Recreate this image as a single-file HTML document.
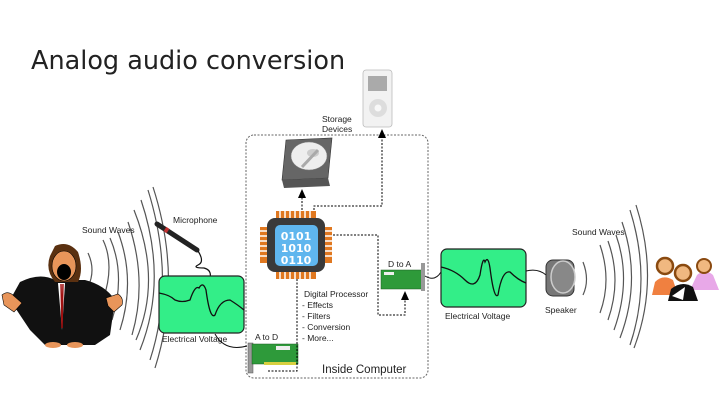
<!DOCTYPE html>
<html><head><meta charset="utf-8"><style>
html,body{margin:0;padding:0;background:#fff;}
svg{display:block;font-family:"Liberation Sans","DejaVu Sans",sans-serif;}
</style></head><body>
<svg width="720" height="405" viewBox="0 0 720 405" xmlns="http://www.w3.org/2000/svg">
<defs>
<marker id="ar" markerWidth="9" markerHeight="8" refX="8" refY="4" orient="auto" markerUnits="userSpaceOnUse">
<path d="M0,0 L9,4 L0,8 Z" fill="#000"/></marker>
</defs>
<text x="31" y="69" font-size="25.5" fill="#222" font-family="'DejaVu Sans',sans-serif">Analog audio conversion</text>

<!-- computer box -->
<rect x="246" y="135" width="182" height="243" rx="8" fill="none" stroke="#666" stroke-dasharray="2,1.5" stroke-width="1"/>
<text x="322" y="373" font-size="11.5" fill="#222">Inside Computer</text>

<!-- left sound waves -->
<g fill="none" stroke="#555" stroke-width="1.2">
<path d="M88,253 Q96,270 88,287"/>
<path d="M103,240 Q115,265 103,300"/>
<path d="M110,238 Q126,275 112,320"/>
<path d="M118,232 Q136,280 120,330"/>
<path d="M128,222 Q148,280 132,335"/>
<path d="M134,210 Q162,280 136,340"/>
<path d="M141,200 Q168,280 140,350"/>
<path d="M148,190 Q176,280 150,360"/>
<path d="M153,187 Q183,280 155,368"/>
</g>
<text x="82" y="233" font-size="8.5" fill="#222">Sound Waves</text>
<text x="173" y="223" font-size="8.5" fill="#222">Microphone</text>

<!-- singer -->
<g>
<path d="M20,282 Q40,272 55,280 L85,280 Q105,285 115,300 L110,335 L95,345 L45,345 L30,330 L10,300 Z" fill="#111"/>
<path d="M2,295 Q8,290 14,296 L22,303 L14,312 L4,305 Z" fill="#e8955a" stroke="#000" stroke-width="0.6"/>
<path d="M106,298 L118,294 Q124,298 122,305 L114,312 L108,306 Z" fill="#e8955a" stroke="#000" stroke-width="0.6"/>
<path d="M55,246 Q68,240 78,252 Q84,270 78,282 L55,282 Q45,270 50,256 Z" fill="#5a3010"/>
<ellipse cx="64" cy="266" rx="12" ry="15" fill="#e8955a" stroke="#000" stroke-width="0.6"/>
<ellipse cx="64" cy="272" rx="7" ry="8" fill="#000"/>
<path d="M58,283 L62,330 L65,283 Z" fill="#fff"/>
<path d="M61,284 L62,328 L63,284" stroke="#a01010" stroke-width="1.5" fill="none"/>
<ellipse cx="53" cy="345" rx="8" ry="3" fill="#e8955a"/><ellipse cx="75" cy="345" rx="8" ry="3" fill="#e8955a"/>
</g>

<!-- mic -->
<path d="M157,224 L197,250" stroke="#222" stroke-width="5" stroke-linecap="round"/>
<path d="M165,229 L168,231" stroke="#c03030" stroke-width="5"/>
<path d="M198,251 Q205,262 198,265 Q192,268 204,268 Q212,270 210,278" stroke="#111" fill="none" stroke-width="1.2"/>

<!-- left green -->
<rect x="159" y="276" width="85" height="57" rx="6" fill="#33ee88" stroke="#222" stroke-width="1.2"/>
<path d="M159,293 Q170,295 175,300 Q182,303 190,300 Q195,285 199,288 Q203,281 206,290 Q210,320 215,315 Q220,300 230,300 Q238,305 244,310" stroke="#111" stroke-width="1.3" fill="none"/>
<text x="162" y="342" font-size="8.5" fill="#222">Electrical Voltage</text>
<path d="M215,334 Q225,352 247,346" stroke="#111" fill="none" stroke-width="1"/>

<!-- A to D card -->
<text x="255" y="340" font-size="8.5" fill="#222">A to D</text>
<rect x="248" y="343" width="5" height="30" fill="#999" stroke="#555" stroke-width="0.5"/>
<rect x="252" y="344" width="46" height="20" fill="#2e9a3a" stroke="#1a5a20" stroke-width="0.5"/>
<rect x="276" y="346" width="14" height="4" fill="#eee"/>
<rect x="264" y="362" width="32" height="3" fill="#d8d040"/>
<path d="M268,371 L297,371 L297,263" stroke="#000" fill="none" stroke-dasharray="2,1.5" marker-end="url(#ar)"/>

<!-- chip -->
<g fill="#e07820">
<rect x="276" y="211" width="40" height="8"/>
<rect x="276" y="271" width="40" height="8"/>
<rect x="260" y="227" width="8" height="36"/>
<rect x="324" y="227" width="8" height="36"/>
</g>
<g stroke="#fff" stroke-width="1.5">
<path d="M280,211 V219 M285,211V219 M290,211V219 M295,211V219 M300,211V219 M305,211V219 M310,211V219"/>
<path d="M280,271 V279 M285,271V279 M290,271V279 M295,271V279 M300,271V279 M305,271V279 M310,271V279"/>
<path d="M260,231 H268 M260,236H268 M260,241H268 M260,246H268 M260,251H268 M260,256H268"/>
<path d="M324,231 H332 M324,236H332 M324,241H332 M324,246H332 M324,251H332 M324,256H332"/>
</g>
<rect x="267" y="218" width="58" height="54" rx="8" fill="#3a3a3a"/>
<rect x="275" y="225" width="43" height="41" rx="5" fill="#5fb6ee"/>
<text font-family="'DejaVu Sans',sans-serif" font-weight="bold" font-size="11" fill="#fff" x="296" text-anchor="middle"><tspan x="296" y="240">0101</tspan><tspan x="296" y="252">1010</tspan><tspan x="296" y="264">0110</tspan></text>
<text x="304" y="297" font-size="8.5" fill="#222">Digital Processor</text>
<text x="302" y="308" font-size="8.5" fill="#222">- Effects</text>
<text x="302" y="319" font-size="8.5" fill="#222">- Filters</text>
<text x="302" y="330" font-size="8.5" fill="#222">- Conversion</text>
<text x="302" y="341" font-size="8.5" fill="#222">- More...</text>

<!-- HDD -->
<path d="M286,140 L332,138 L328,178 L282,180 Z" fill="#666" stroke="#333" stroke-width="0.6"/>
<path d="M282,180 L328,178 L330,186 L284,188 Z" fill="#555"/>
<ellipse cx="309" cy="156" rx="18" ry="14" fill="#eee" stroke="#888" stroke-width="0.5"/>
<ellipse cx="313" cy="153" rx="6" ry="4" fill="#ccc"/>
<path d="M302,167 L318,150" stroke="#aaa" stroke-width="3"/>
<path d="M302,210 L302,190" stroke="#000" stroke-dasharray="2,1.5" marker-end="url(#ar)"/>
<path d="M314,210 L314,206 L382,206 L382,130" stroke="#000" fill="none" stroke-dasharray="2,1.5" marker-end="url(#ar)"/>

<!-- iPod -->
<rect x="363" y="70" width="29" height="57" rx="3" fill="#f2f2f2" stroke="#bbb" stroke-width="0.8"/>
<rect x="368" y="76" width="19" height="15" fill="#aaa"/>
<circle cx="378" cy="108" r="9" fill="#ddd"/><circle cx="378" cy="108" r="3.5" fill="#f8f8f8"/>
<text x="322" y="122" font-size="8.5" fill="#222">Storage</text>
<text x="322" y="132" font-size="8.5" fill="#222">Devices</text>

<!-- D to A -->
<path d="M333,235 L378,235 L378,315 L405,315 L405,292" stroke="#000" fill="none" stroke-dasharray="2,1.5" marker-end="url(#ar)"/>
<text x="388" y="267" font-size="8.5" fill="#222">D to A</text>
<rect x="381" y="270" width="41" height="19" fill="#2e9a3a" stroke="#1a5a20" stroke-width="0.5"/>
<rect x="384" y="272" width="10" height="3" fill="#eee"/>
<rect x="421" y="263" width="4" height="28" fill="#999"/>
<path d="M425,276 Q435,282 441,272" stroke="#111" fill="none"/>

<!-- right green -->
<rect x="441" y="249" width="85" height="58" rx="6" fill="#33ee88" stroke="#222" stroke-width="1.2"/>
<path d="M441,267 Q455,270 465,280 Q475,290 480,275 Q483,255 485,262 Q488,255 490,268 Q494,300 498,295 Q502,270 510,272 Q518,280 526,283" stroke="#111" stroke-width="1.3" fill="none"/>
<text x="445" y="319" font-size="8.5" fill="#222">Electrical Voltage</text>
<path d="M526,271 Q538,268 546,275" stroke="#111" fill="none"/>

<!-- speaker -->
<rect x="546" y="260" width="28" height="36" rx="7" fill="#777" stroke="#333"/>
<ellipse cx="563" cy="277" rx="12" ry="16" fill="#888" stroke="#ccc" stroke-width="1.5"/>
<text x="545" y="313" font-size="8.5" fill="#222">Speaker</text>

<!-- right waves -->
<g fill="none" stroke="#555" stroke-width="1.2">
<path d="M583,262 Q590,280 583,295"/>
<path d="M600,245 Q612,280 600,313"/>
<path d="M608,241 Q622,280 608,320"/>
<path d="M616,235 Q632,280 614,330"/>
<path d="M622,222 Q642,280 620,338"/>
<path d="M630,210 Q652,280 630,345"/>
<path d="M636,205 Q660,280 634,348"/>
</g>
<text x="572" y="235" font-size="8.5" fill="#222">Sound Waves</text>

<!-- people -->
<path d="M697,275 Q705,268 713,275 L719,290 L690,290 Z" fill="#e8a8e8"/>
<circle cx="704" cy="266" r="7" fill="#f0b880" stroke="#8a4a10" stroke-width="2"/>
<path d="M655,282 Q663,274 673,280 L678,295 L652,295 Z" fill="#f08040"/>
<circle cx="665" cy="266" r="8" fill="#f0b880" stroke="#8a4a10" stroke-width="2.5"/>
<path d="M671,289 Q682,280 693,287 L698,301 L668,301 Z" fill="#111"/>
<path d="M672,296 L685,287 L683,300 Z" fill="#fff"/>
<circle cx="683" cy="273" r="8" fill="#f0b880" stroke="#8a4a10" stroke-width="2.5"/>
</svg>
</body></html>
